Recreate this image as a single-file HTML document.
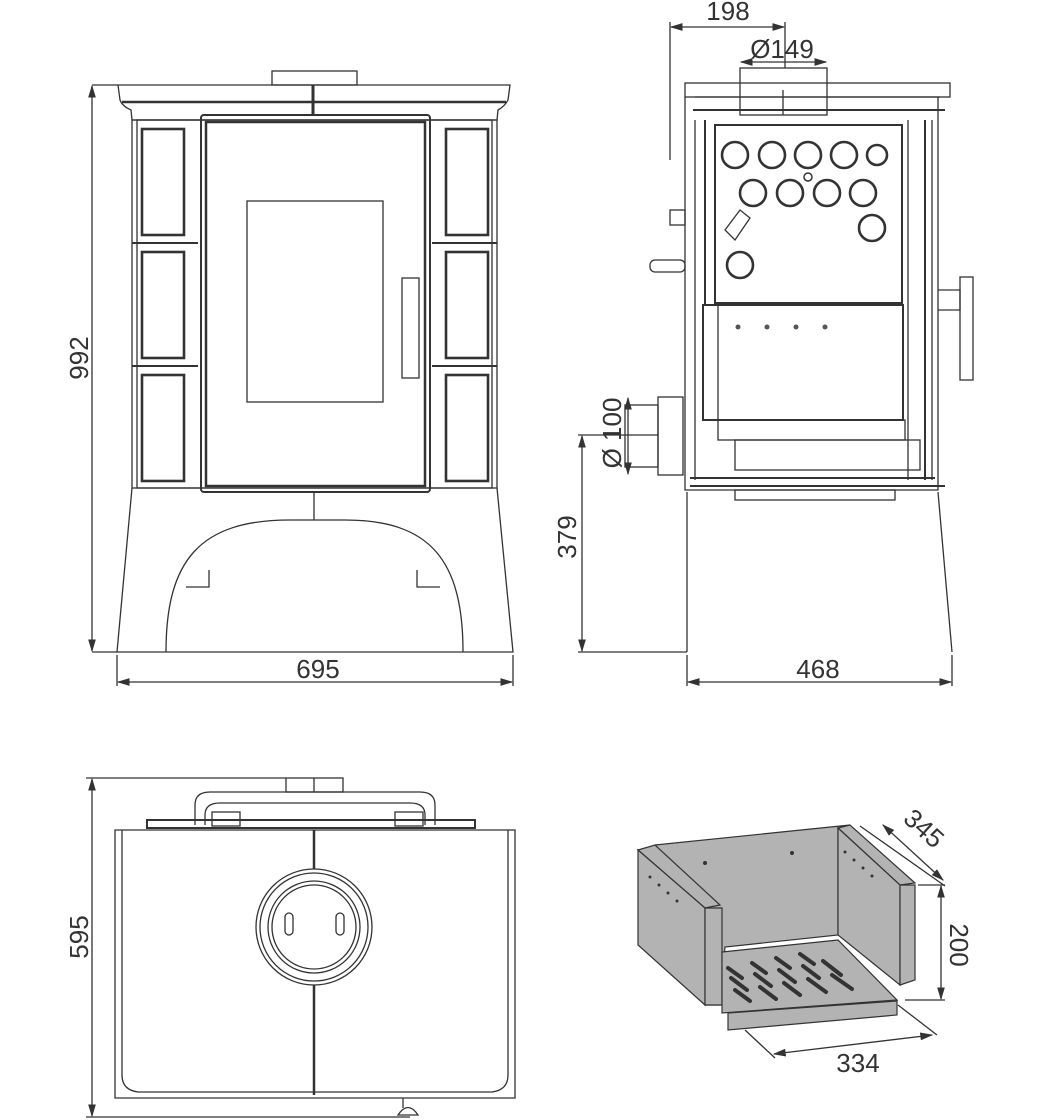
<!DOCTYPE html>
<html><head><meta charset="utf-8"><style>
html,body{margin:0;padding:0;background:#fff}
svg{display:block}
text{font-family:"Liberation Sans",sans-serif;font-size:26px;fill:#333}
</style></head><body>
<svg width="1040" height="1120" viewBox="0 0 1040 1120" xmlns="http://www.w3.org/2000/svg">
<defs>
<marker id="a" markerWidth="10" markerHeight="6" refX="9" refY="3" orient="auto-start-reverse"><path d="M0,0 L10,3 L0,6z" fill="#333"/></marker>
</defs>
<g fill="none" stroke="#333" stroke-width="1.3">
<!-- FRONT VIEW -->
<rect x="272" y="71" width="85" height="14"/>
<path d="M118,85 H510 L508,100 Q505,106 498,110 L497,120 H132 L131,110 Q122,106 120,100 Z"/>
<line x1="122" y1="102" x2="506" y2="102" stroke-width="2.5"/>
<line x1="313" y1="85" x2="313" y2="115" stroke-width="3"/>
<rect x="132" y="120" width="365" height="368"/>
<rect x="137" y="120" width="355" height="368"/>
<rect x="201" y="115" width="229" height="377" rx="3" stroke-width="2"/>
<rect x="206" y="122" width="219" height="364" stroke-width="2.5"/>
<rect x="247" y="201" width="136" height="201"/>
<rect x="402" y="278" width="17" height="100"/>
<g stroke-width="2.6">
<rect x="142" y="129" width="42" height="106"/>
<rect x="142" y="252" width="42" height="106"/>
<rect x="142" y="375" width="42" height="106"/>
<rect x="446" y="129" width="42" height="106"/>
<rect x="446" y="252" width="42" height="106"/>
<rect x="446" y="375" width="42" height="106"/>
</g>
<line x1="132" y1="243" x2="198" y2="243" stroke-width="2"/>
<line x1="132" y1="366" x2="198" y2="366" stroke-width="2"/>
<line x1="432" y1="243" x2="497" y2="243" stroke-width="2"/>
<line x1="432" y1="366" x2="497" y2="366" stroke-width="2"/>
<path d="M132,488 L117,652 H513 L497,488"/>
<path d="M166,652 C166,560 200,520 290,520 H345 C430,520 463,560 463,652"/>
<path d="M209,570 V587 H186"/><path d="M417,570 V587 H440"/>
<line x1="314" y1="492" x2="314" y2="520"/>
<!-- dims front -->
<line x1="92" y1="85" x2="118" y2="85"/><line x1="92" y1="652" x2="117" y2="652"/>
<line x1="92" y1="86" x2="92" y2="651" marker-start="url(#a)" marker-end="url(#a)"/>
<line x1="117" y1="655" x2="117" y2="686"/><line x1="513" y1="655" x2="513" y2="686"/>
<line x1="118" y1="682" x2="512" y2="682" marker-start="url(#a)" marker-end="url(#a)"/>

<!-- SIDE VIEW -->
<rect x="740" y="68" width="87" height="47"/>
<line x1="783" y1="90" x2="783" y2="115"/>
<rect x="685" y="83" width="265" height="14"/>
<line x1="695" y1="97" x2="940" y2="97"/>
<path d="M685,97 V490 H938 V97"/>
<line x1="693" y1="110" x2="945" y2="110" stroke-width="2"/>
<rect x="715" y="125" width="187" height="178" stroke-width="2"/>
<rect x="703" y="305" width="200" height="115" stroke-width="2"/>
<line x1="718" y1="305" x2="718" y2="420"/>
<rect x="718" y="420" width="187" height="20"/>
<rect x="735" y="440" width="185" height="30"/>
<line x1="690" y1="478" x2="935" y2="478" stroke-width="2"/>
<line x1="690" y1="486" x2="945" y2="486" stroke-width="2"/>
<line x1="908" y1="120" x2="908" y2="480"/>
<line x1="925" y1="120" x2="925" y2="480" stroke-width="2"/>
<line x1="932" y1="120" x2="932" y2="480"/>
<line x1="695" y1="120" x2="695" y2="480"/>
<line x1="705" y1="120" x2="705" y2="305" stroke-width="2"/>
<rect x="960" y="277" width="13" height="103"/>
<path d="M938,290 H960 V310 H938"/>
<rect x="658" y="397" width="25" height="78"/>
<rect x="625" y="405" width="33" height="62"/>
<rect x="650" y="260" width="35" height="12" rx="5"/>
<rect x="670" y="210" width="15" height="15"/>
<path d="M725,230 L740,210 L750,218 L735,240 Z"/>
<path d="M687,492 V652 M938,492 L952,652"/>
<rect x="735" y="490" width="160" height="10"/>
<g stroke-width="2.6">
<circle cx="735" cy="155" r="13"/><circle cx="772" cy="155" r="13"/><circle cx="808" cy="155" r="13"/><circle cx="844" cy="155" r="13"/><circle cx="877" cy="155" r="10"/>
<circle cx="753" cy="193" r="13"/><circle cx="790" cy="193" r="13"/><circle cx="827" cy="193" r="13"/><circle cx="863" cy="193" r="13"/>
<circle cx="872" cy="228" r="13"/><circle cx="740" cy="265" r="13"/>
<circle cx="808" cy="177" r="4" stroke-width="1.5"/>
</g>
<g fill="#555" stroke="none"><circle cx="738" cy="327" r="2.5"/><circle cx="767" cy="327" r="2.5"/><circle cx="796" cy="327" r="2.5"/><circle cx="825" cy="327" r="2.5"/></g>
<!-- side dims -->
<line x1="670" y1="22" x2="670" y2="160"/><line x1="785" y1="22" x2="785" y2="68"/>
<line x1="671" y1="27" x2="784" y2="27" marker-start="url(#a)" marker-end="url(#a)"/>
<line x1="741" y1="62" x2="826" y2="62" marker-start="url(#a)" marker-end="url(#a)"/>
<line x1="578" y1="435" x2="658" y2="435"/><line x1="578" y1="652" x2="687" y2="652"/>
<line x1="582" y1="436" x2="582" y2="651" marker-start="url(#a)" marker-end="url(#a)"/>
<line x1="628" y1="398" x2="628" y2="474" marker-start="url(#a)" marker-end="url(#a)"/>
<line x1="687" y1="655" x2="687" y2="686"/><line x1="952" y1="655" x2="952" y2="686"/>
<line x1="688" y1="682" x2="951" y2="682" marker-start="url(#a)" marker-end="url(#a)"/>

<!-- TOP VIEW -->
<rect x="286" y="778" width="57" height="14"/><line x1="314" y1="778" x2="314" y2="792"/>
<path d="M195,825 V805 Q195,792 210,792 H420 Q435,792 435,805 V825"/>
<path d="M205,825 V815 Q205,803 220,803 H410 Q425,803 425,815 V825"/>
<rect x="147" y="820" width="328" height="8" stroke-width="2"/>
<rect x="212" y="812" width="28" height="14"/><rect x="395" y="812" width="28" height="14"/>
<path d="M115,830 H515 V1098 H115 Z"/>
<path d="M122,830 V1075 Q122,1090 138,1092 H492 Q508,1090 508,1075 V830"/>
<line x1="314" y1="830" x2="314" y2="869" stroke-width="2.5"/>
<line x1="314" y1="985" x2="314" y2="1095" stroke-width="2.5"/>
<circle cx="314" cy="927" r="58"/><circle cx="314" cy="927" r="54"/><circle cx="314" cy="927" r="46"/><circle cx="314" cy="927" r="42"/>
<rect x="285" y="913" width="8" height="22" rx="4"/><rect x="336" y="913" width="8" height="22" rx="4"/>
<path d="M403,1098 V1108 M398,1115 Q408,1100 418,1115 Z"/>
<line x1="86" y1="778" x2="286" y2="778"/><line x1="86" y1="1117" x2="410" y2="1117"/>
<line x1="92" y1="779" x2="92" y2="1116" marker-start="url(#a)" marker-end="url(#a)"/>

<!-- GRATE -->
<g fill="#b3b3b3" stroke="#333" stroke-width="1.2">
<path d="M655,845 L850,825 L838,828 L838,935 L725,947 L720,1005 L705,1005 L705,908 L655,855 Z"/>
<path d="M638,850 L655,845 L720,905 L705,908 Z"/>
<path d="M638,850 L705,908 V1005 L638,945 Z"/>
<path d="M705,908 H722 V1005 H705 Z"/>
<path d="M838,828 L850,825 L915,883 L900,885 Z"/>
<path d="M838,828 L900,885 V985 L838,935 Z"/>
<path d="M900,885 H915 V980 L900,985 Z"/>
<path d="M722,952 L838,940 L897,1000 L722,1013 Z"/>
<path d="M728,1013 L897,1001 V1015 L728,1030 Z"/>
</g>
<g stroke="#333" stroke-width="4" stroke-linecap="round">
<line x1="728" y1="968" x2="742" y2="978"/><line x1="752" y1="963" x2="766" y2="973"/><line x1="776" y1="958" x2="790" y2="968"/><line x1="800" y1="954" x2="814" y2="964"/>
<line x1="731" y1="978" x2="747" y2="990"/><line x1="755" y1="974" x2="771" y2="986"/><line x1="779" y1="970" x2="795" y2="982"/><line x1="803" y1="966" x2="819" y2="978"/><line x1="823" y1="961" x2="841" y2="975"/>
<line x1="735" y1="990" x2="750" y2="1001"/><line x1="760" y1="987" x2="776" y2="999"/><line x1="784" y1="983" x2="800" y2="995"/><line x1="808" y1="979" x2="826" y2="992"/><line x1="832" y1="975" x2="852" y2="989"/>
</g>
<g fill="#333" stroke="none"><circle cx="705" cy="863" r="2"/><circle cx="792" cy="853" r="2"/><circle cx="650" cy="877" r="1.5"/><circle cx="659" cy="885" r="1.5"/><circle cx="668" cy="893" r="1.5"/><circle cx="677" cy="901" r="1.5"/><circle cx="845" cy="852" r="1.5"/><circle cx="854" cy="860" r="1.5"/><circle cx="863" cy="868" r="1.5"/><circle cx="872" cy="876" r="1.5"/></g>
<line x1="860" y1="826" x2="945" y2="886"/>
<line x1="883" y1="825" x2="943" y2="880" marker-start="url(#a)" marker-end="url(#a)"/>
<line x1="918" y1="885" x2="945" y2="885"/><line x1="905" y1="1000" x2="945" y2="1000"/>
<line x1="941" y1="886" x2="941" y2="999" marker-start="url(#a)" marker-end="url(#a)"/>
<line x1="898" y1="1005" x2="937" y2="1035"/><line x1="745" y1="1030" x2="775" y2="1058"/>
<line x1="774" y1="1054" x2="932" y2="1035" marker-start="url(#a)" marker-end="url(#a)"/>
</g>
<g>
<text x="318" y="678" text-anchor="middle">695</text>
<text transform="translate(88,358) rotate(-90)" text-anchor="middle">992</text>
<text x="728" y="20" text-anchor="middle">198</text>
<text x="782" y="58" text-anchor="middle">Ø149</text>
<text transform="translate(576,537) rotate(-90)" text-anchor="middle">379</text>
<text transform="translate(621,433) rotate(-90)" text-anchor="middle">Ø 100</text>
<text x="818" y="678" text-anchor="middle">468</text>
<text transform="translate(88,937) rotate(-90)" text-anchor="middle">595</text>
<text transform="translate(918,835) rotate(42)" text-anchor="middle">345</text>
<text transform="translate(950,945) rotate(90)" text-anchor="middle">200</text>
<text x="858" y="1072" text-anchor="middle">334</text>
</g>
</svg>
</body></html>
